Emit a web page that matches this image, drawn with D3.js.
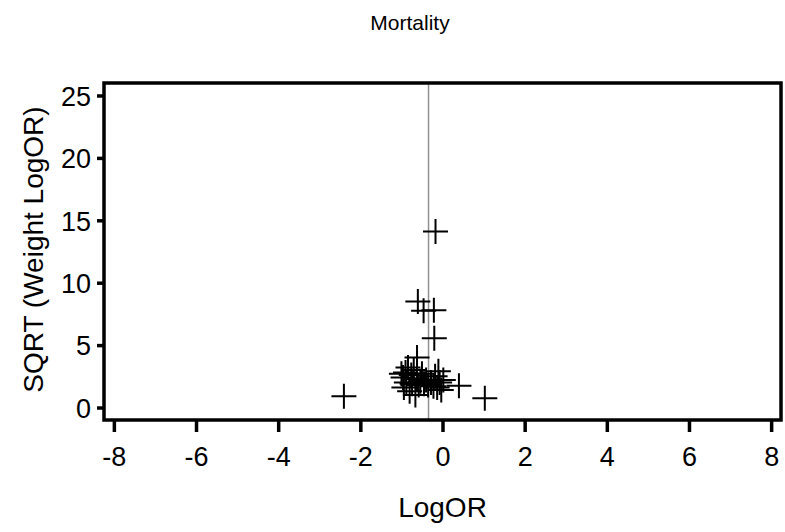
<!DOCTYPE html>
<html><head><meta charset="utf-8">
<script src="https://cdn.jsdelivr.net/npm/d3@7"></script>
<style>body{margin:0;background:#fff}svg{display:block}text{font-family:"Liberation Sans",Arial,sans-serif;fill:#000}</style>
</head><body>
<script>
const logOR = [-0.17,-0.60,-0.46,-0.21,-0.20,-0.62,-2.40,1.03,0.40,
  -1.00,-0.96,-0.94,-0.90,-0.88,-0.84,-0.80,-0.76,-0.74,-0.70,-0.66,-0.62,-0.58,-0.54,-0.50,-0.45,-0.40,-0.35,-0.28,-0.22,-0.18,-0.13,-0.10,-0.07,-0.03,0.02];
const sqrtWeight = [14.1,8.5,7.75,7.8,5.55,4.0,0.9,0.75,1.75,
  2.7,2.4,1.6,2.8,2.0,3.2,1.3,2.6,1.9,3.0,1.0,2.3,1.8,2.1,2.7,1.9,2.2,1.8,2.0,1.7,2.5,1.6,2.9,2.0,1.4,2.2];
const xTicks = [-8,-6,-4,-2,0,2,4,6,8];
const yTicks = [0,5,10,15,20,25];
const refLine = -0.34;
const titleText = "Mortality", xLabel = "LogOR", yLabel = "SQRT (Weight LogOR)";

const W=785,H=532;
const L=104,R=781,T=83,B=420;
const svg=d3.select("body").append("svg").attr("width",W).attr("height",H);
const x=d3.scaleLinear().domain([-8.24,8.24]).range([L,R]);
const y=d3.scaleLinear().domain([-1,26]).range([B,T]);

svg.append("line").attr("x1",x(refLine)).attr("x2",x(refLine)).attr("y1",T).attr("y2",B)
  .attr("stroke","#909090").attr("stroke-width",1.5);

const pts=logOR.map((v,i)=>({x:v,y:sqrtWeight[i]}));
const sx=12.5, sy=12.5;
const g=svg.append("g");
pts.forEach(p=>{
  const cx=x(p.x),cy=y(p.y);
  g.append("path").attr("d",`M${cx-sx},${cy}H${cx+sx}M${cx},${cy-sy}V${cy+sy}`)
   .attr("stroke","#000").attr("stroke-width",2).attr("fill","none");
});

svg.append("rect").attr("x",L).attr("y",T).attr("width",R-L).attr("height",B-T)
  .attr("fill","none").attr("stroke","#000").attr("stroke-width",3.5);

const fmt=d=>String(d);
const xa=svg.append("g").attr("transform",`translate(0,${B})`)
  .call(d3.axisBottom(x).tickValues(xTicks).tickSize(12).tickFormat(fmt));
const ya=svg.append("g").attr("transform",`translate(${L},0)`)
  .call(d3.axisLeft(y).tickValues(yTicks).tickSize(7).tickFormat(fmt));
[xa,ya].forEach(a=>{
  a.select(".domain").remove();
  a.selectAll(".tick line").attr("stroke","#000").attr("stroke-width",3.5);
  a.selectAll(".tick text").attr("font-size",27).attr("font-family","Liberation Sans, Arial, sans-serif").attr("fill","#000");
});
xa.selectAll(".tick text").attr("y",46).attr("dy",0);
ya.selectAll(".tick text").attr("x",-13).attr("dy","0.36em");

svg.append("text").attr("text-anchor","middle").attr("font-size",21)
  .attr("x",410).attr("y",30).text(titleText);
svg.append("text").attr("text-anchor","middle").attr("font-size",28)
  .attr("x",(L+R)/2).attr("y",517).text(xLabel);
svg.append("text").attr("text-anchor","middle").attr("font-size",28)
  .attr("transform",`translate(43,${(T+B)/2 - 2}) rotate(-90)`).text(yLabel);
</script>
</body></html>
